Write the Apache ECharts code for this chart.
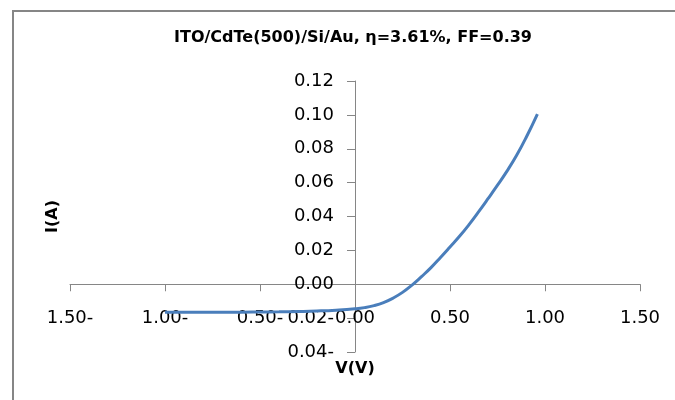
<!DOCTYPE html>
<html>
<head>
<meta charset="utf-8">
<script src="https://cdn.jsdelivr.net/npm/echarts@6/dist/echarts.min.js"></script>
<style>
html,body{margin:0;padding:0;background:#fff;overflow:hidden;}
#chart{width:675px;height:400px;}
</style>
</head>
<body>
<div id="chart"></div>
<script>
var titleText = 'ITO/CdTe(500)/Si/Au, \u03b7=3.61%, FF=0.39';
var xName = 'V(V)';
var yName = 'I(A)';
var voltage = [-1.00, -0.90, -0.80, -0.70, -0.60, -0.50, -0.40, -0.30, -0.20, -0.10,
               0.00, 0.05, 0.10, 0.15, 0.20, 0.25, 0.30, 0.35, 0.40, 0.45,
               0.50, 0.55, 0.60, 0.65, 0.70, 0.75, 0.80, 0.85, 0.90, 0.96];
var current = [-0.0166, -0.0166, -0.0166, -0.0165, -0.0165, -0.0164, -0.0163, -0.0161, -0.0158, -0.0153,
               -0.0145, -0.0138, -0.0126, -0.0108, -0.0082, -0.0048, -0.0005, 0.0045, 0.0098, 0.0158,
               0.0220, 0.0283, 0.0352, 0.0427, 0.0505, 0.0585, 0.0668, 0.0760, 0.0865, 0.1005];
var xMin = -1.5, xMax = 1.5, xStep = 0.5;
var yMin = -0.04, yMax = 0.12, yStep = 0.02;

function fmt(v) {
  if (v < -1e-9) return Math.abs(v).toFixed(2) + '-';
  return Math.abs(v).toFixed(2);
}

var points = voltage.map(function (v, i) { return [v, current[i]]; });
var axisColor = '#868686';
var gridL = 70, gridR = 35, gridT = 81, gridB = 48;
var plotW = 675 - gridL - gridR, plotH = 400 - gridT - gridB;
// place axes where the other axis is zero (computed from the axis ranges)
var yAxisOffset = -plotW * (0 - xMin) / (xMax - xMin);
var xAxisOffset = -plotH * (0 - yMin) / (yMax - yMin);

var chart = echarts.init(document.getElementById('chart'), null, {renderer: 'canvas'});
chart.setOption({
  animation: false,
  backgroundColor: '#ffffff',
  title: {
    text: titleText,
    left: 348,
    top: 25,
    textAlign: 'center',
    textStyle: {fontFamily: 'DejaVu Sans', fontWeight: 'bold', fontSize: 16, color: '#000'}
  },
  graphic: [{
    type: 'polyline',
    shape: {points: [[13, 420], [13, 11], [720, 11]]},
    style: {fill: null, stroke: axisColor, lineWidth: 2},
    silent: true
  }],
  grid: {left: gridL, right: gridR, top: gridT, bottom: gridB, containLabel: false, outerBoundsMode: 'none'},
  xAxis: {
    type: 'value',
    position: 'bottom',
    offset: xAxisOffset,
    min: xMin, max: xMax, interval: xStep,
    name: xName,
    nameLocation: 'middle',
    nameGap: 77,
    nameTextStyle: {fontFamily: 'DejaVu Sans', fontWeight: 'bold', fontSize: 16, color: '#000'},
    axisLine: {onZero: false, lineStyle: {color: axisColor, width: 1}},
    axisTick: {show: true, length: 7, lineStyle: {color: axisColor}},
    splitLine: {show: false},
    axisLabel: {margin: 25, formatter: fmt, fontFamily: 'DejaVu Sans', fontSize: 18, color: '#000'}
  },
  yAxis: {
    type: 'value',
    position: 'left',
    offset: yAxisOffset,
    min: yMin, max: yMax, interval: yStep,
    name: yName,
    nameLocation: 'middle',
    nameGap: 294,
    nameRotate: 90,
    nameTextStyle: {fontFamily: 'DejaVu Sans', fontWeight: 'bold', fontSize: 16, color: '#000'},
    axisLine: {onZero: false, lineStyle: {color: axisColor, width: 1}},
    axisTick: {show: true, length: 8, lineStyle: {color: axisColor}},
    splitLine: {show: false},
    axisLabel: {margin: 21, formatter: fmt, fontFamily: 'DejaVu Sans', fontSize: 18, color: '#000'}
  },
  series: [{
    type: 'line',
    data: points,
    smooth: true,
    showSymbol: false,
    symbol: 'none',
    lineStyle: {color: '#4A7EBB', width: 3},
    z: 1
  }]
});
</script>
</body>
</html>
